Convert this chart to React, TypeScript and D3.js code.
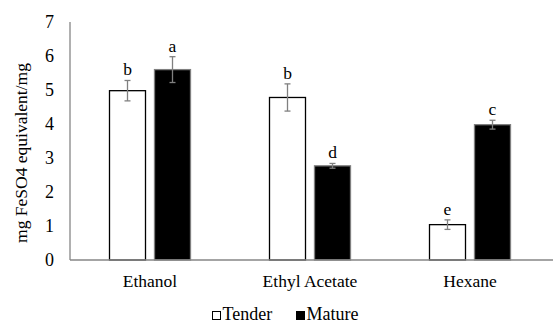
import React, { useEffect, useRef } from "react";
import * as d3 from "d3";

const solvents = ["Ethanol", "Ethyl Acetate", "Hexane"];
const seriesNames = ["Tender", "Mature"];
const tenderValues = [4.98, 4.78, 1.04];
const matureValues = [5.6, 2.77, 3.98];
const tenderErrors = [0.3, 0.4, 0.14];
const matureErrors = [0.38, 0.07, 0.13];
const tenderLetters = ["b", "b", "e"];
const matureLetters = ["a", "d", "c"];
const yTicks = [0, 1, 2, 3, 4, 5, 6, 7];

const App = () => {
  const ref = useRef<SVGSVGElement>(null);

  useEffect(() => {
    const svg = d3.select(ref.current);
    svg.selectAll("*").remove();

    const margin = { top: 22, left: 70, right: 3, bottom: 64 };
    const W = 553;
    const H = 324;
    const font = "'Liberation Serif', 'Times New Roman', serif";
    const fs = 17.5;

    const x = d3
      .scaleBand()
      .domain(solvents)
      .range([margin.left, W - margin.right])
      .paddingInner(0)
      .paddingOuter(0);
    const inner = d3.scaleBand().domain(seriesNames).range([0, 81]).paddingInner(0.2);
    const y = d3.scaleLinear().domain([0, 7]).range([H - margin.bottom, margin.top]);

    const rows = solvents.map((s, i) => [
      { s, key: "Tender", v: tenderValues[i], e: tenderErrors[i], l: tenderLetters[i] },
      { s, key: "Mature", v: matureValues[i], e: matureErrors[i], l: matureLetters[i] },
    ]).flat();

    const off = (x.bandwidth() - 81) / 2;
    const bx = (d: any) => (x(d.s) as number) + off + (inner(d.key) as number);
    const bw = inner.bandwidth();

    svg
      .append("g")
      .selectAll("rect")
      .data(rows)
      .join("rect")
      .attr("x", (d) => bx(d))
      .attr("y", (d) => y(d.v))
      .attr("width", bw)
      .attr("height", (d) => y(0) - y(d.v))
      .attr("fill", (d) => (d.key === "Tender" ? "#fff" : "#000"))
      .attr("stroke", (d) => (d.key === "Tender" ? "#000" : "#7f7f7f"))
      .attr("stroke-width", 1.3);

    // error bars
    const eg = svg.append("g").attr("stroke", "#808080").attr("stroke-width", 1.3);
    rows.forEach((d) => {
      const cx = bx(d) + bw / 2;
      eg.append("line").attr("x1", cx).attr("x2", cx).attr("y1", y(d.v + d.e)).attr("y2", y(d.v - d.e));
      eg.append("line").attr("x1", cx - 3).attr("x2", cx + 3).attr("y1", y(d.v + d.e)).attr("y2", y(d.v + d.e));
      eg.append("line").attr("x1", cx - 3).attr("x2", cx + 3).attr("y1", y(d.v - d.e)).attr("y2", y(d.v - d.e));
    });

    svg
      .append("g")
      .selectAll("text")
      .data(rows)
      .join("text")
      .attr("x", (d) => bx(d) + bw / 2)
      .attr("y", (d) => y(d.v + d.e) - 5)
      .attr("text-anchor", "middle")
      .attr("font-family", font)
      .attr("font-size", fs)
      .text((d) => d.l);

    // axes
    svg
      .append("line")
      .attr("x1", margin.left)
      .attr("x2", W)
      .attr("y1", y(0))
      .attr("y2", y(0))
      .attr("stroke", "#868686")
      .attr("stroke-width", 1.3);
    svg
      .append("line")
      .attr("x1", margin.left)
      .attr("x2", margin.left)
      .attr("y1", y(0))
      .attr("y2", y(7))
      .attr("stroke", "#868686")
      .attr("stroke-width", 1.3);

    svg
      .append("g")
      .selectAll("text")
      .data(yTicks)
      .join("text")
      .attr("x", margin.left - 16)
      .attr("y", (d) => y(d))
      .attr("dy", "0.35em")
      .attr("text-anchor", "end")
      .attr("font-family", font)
      .attr("font-size", 18)
      .text((d) => d);

    svg
      .append("g")
      .selectAll("text")
      .data(solvents)
      .join("text")
      .attr("x", (d) => (x(d) as number) + x.bandwidth() / 2)
      .attr("y", 286.5)
      .attr("text-anchor", "middle")
      .attr("font-family", font)
      .attr("font-size", fs)
      .text((d) => d);

    svg
      .append("text")
      .attr("transform", `translate(21,153) rotate(-90)`)
      .attr("dy", "0.35em")
      .attr("text-anchor", "middle")
      .attr("font-family", font)
      .attr("font-size", 17.5)
      .text("mg FeSO4 equivalent/mg");

    // legend
    const legendX = [212.5, 296.5];
    const lg = svg.append("g");
    seriesNames.forEach((n, i) => {
      lg.append("rect")
        .attr("x", legendX[i])
        .attr("y", 311.5)
        .attr("width", 8)
        .attr("height", 8)
        .attr("fill", n === "Tender" ? "#fff" : "#000")
        .attr("stroke", "#000")
        .attr("stroke-width", 1);
      lg.append("text")
        .attr("x", legendX[i] + 10)
        .attr("y", 319.5)
        .attr("font-family", font)
        .attr("font-size", 18)
        .text(n);
    });
  }, []);

  return (
    <svg
      ref={ref}
      width={553}
      height={324}
      style={{ position: "absolute", left: 0, top: 0, background: "#fff" }}
    />
  );
};

export default App;
